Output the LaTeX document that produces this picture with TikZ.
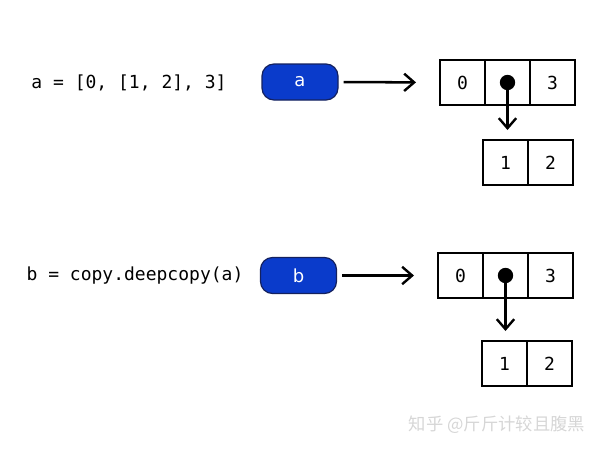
\documentclass[tikz,border=0pt]{standalone}
\usepackage{fontspec}
\setmainfont{DejaVu Sans}
\setmonofont{DejaVu Sans Mono}
\newfontfamily\cjk{Noto Sans CJK SC}
\usetikzlibrary{arrows.meta, positioning}
\definecolor{CBlue}{HTML}{0A3BCB}
\definecolor{CNavy}{HTML}{14215E}
\definecolor{CMark}{HTML}{D6D6D6}

\begin{document}
\begin{tikzpicture}[x=0.75pt, y=-0.75pt,
    var/.style={draw=CNavy, fill=CBlue, rounded corners=9pt, line width=0.9pt, minimum width=57pt, minimum height=27pt, text=white, font=\fontsize{13.5}{15}\selectfont},
    cell/.style={draw, line width=0.9pt, outer sep=0pt, minimum width=33.75pt, minimum height=33.75pt, font=\ttfamily\fontsize{13.5}{15}\selectfont},
    code/.style={font=\ttfamily\fontsize{13.5}{15}\selectfont},
    ref/.style={-{Straight Barb[length=7.5pt, width=13pt, line width=1.8pt]}, line width=1.9pt},
    pin/.style={circle, fill=black, inner sep=0pt, minimum size=11.5pt}]
    \useasboundingbox (0,0) rectangle (600,450);

    % Original list
    \node[code] (codeA) at (129,83) {a = [0, [1, 2], 3]};
    \node[var] (varA) at (300,82) {a};
    \node[cell] (a0) at (462.5,82.5) {0};
    \node[cell, right=0pt of a0] (a1) {};
    \node[cell, right=0pt of a1] (a2) {3};
    \node[cell] (s0) at (505.5,162.5) {1};
    \node[cell, right=0pt of s0] (s1) {2};
    \node[pin] (pinA) at (a1.center) {};
    \draw[ref, shorten <=3.75pt, shorten >=18pt] (varA.east) -- (a0.west);
    \draw[ref, shorten >=7.5pt] (pinA.center) -- (pinA.center |- s0.north);

    % Deep copy
    \node[code] (codeB) at (135,276) {b = copy.deepcopy(a)};
    \node[var] (varB) at (298.5,275.5) {b};
    \node[cell] (b0) at (460.5,275.5) {0};
    \node[cell, right=0pt of b0] (b1) {};
    \node[cell, right=0pt of b1] (b2) {3};
    \node[cell] (t0) at (504.5,363.5) {1};
    \node[cell, right=0pt of t0] (t1) {2};
    \node[pin] (pinB) at (b1.center) {};
    \draw[ref, shorten <=3.75pt, shorten >=18pt] (varB.east) -- (b0.west);
    \draw[ref, shorten >=7.5pt] (pinB.center) -- (pinB.center |- t0.north);

    % Watermark
    \node[text=CMark, font=\cjk\fontsize{13}{15}\selectfont] (mark) at (497,425) {知乎 @斤斤计较且腹黑};
\end{tikzpicture}
\end{document}
